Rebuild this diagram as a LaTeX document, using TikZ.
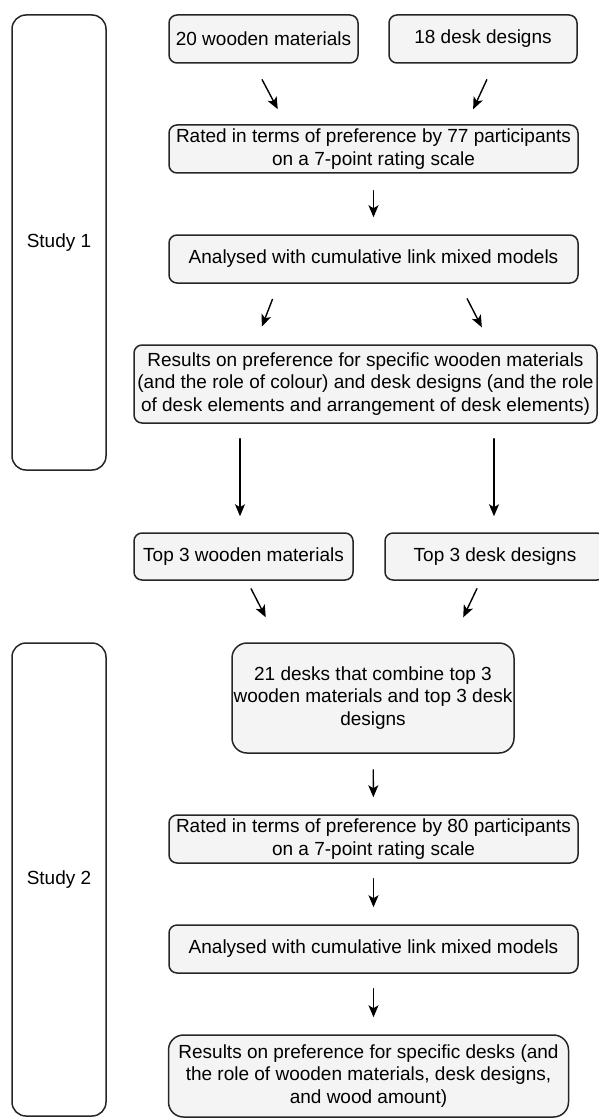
\documentclass[tikz,border=0pt]{standalone}
\usepackage{fontspec}
\setmainfont{Liberation Sans}
\usetikzlibrary{arrows.meta}
\definecolor{boxgray}{HTML}{F4F4F4}
\definecolor{edge}{HTML}{262626}
\begin{document}
\begin{tikzpicture}[x=1pt,y=-1pt, line join=round, line cap=round,
	font=\fontsize{19pt}{22.8pt}\selectfont,
	box/.style={draw=edge, line width=1.5pt, fill=boxgray, rounded corners=8pt, inner sep=0pt, align=center},
	study/.style={draw=edge, line width=1.5pt, rounded corners=14pt, inner sep=0pt, minimum width=94pt},
	arr/.style={-{Stealth[length=12pt,width=10pt,inset=3pt]}, line width=1.4pt}]
	\useasboundingbox (0,0) rectangle (599,1118);
	\node[study, minimum height=455pt] (S1) at (59,242.5) {Study 1};
	\node[study, minimum height=473pt] (S2) at (59,879.5) {Study 2};
	\node[box, minimum width=189pt, minimum height=48pt] (wood) at (263.5,39) {20 wooden materials};
	\node[box, minimum width=188pt, minimum height=48pt] (desk) at (483,39) {18 desk designs};
	\node[box, minimum width=409pt, minimum height=48pt] (rateA) at (373.5,149) {Rated in terms of preference by 77 participants\\on a 7-point rating scale};
	\node[box, minimum width=409pt, minimum height=48pt] (anaA) at (373.5,259) {Analysed with cumulative link mixed models};
	\node[box, minimum width=463pt, minimum height=78pt] (resA) at (365.5,384) {Results on preference for specific wooden materials\\(and the role of colour) and desk designs (and the role\\of desk elements and arrangement of desk elements)};
	\node[box, minimum width=219pt, minimum height=47pt] (topW) at (243.5,556.5) {Top 3 wooden materials};
	\node[box, minimum width=220pt, minimum height=47pt] (topD) at (495,556.5) {Top 3 desk designs};
	\node[box, rounded corners=15pt, minimum width=282pt, minimum height=110pt] (combo) at (373,698) {21 desks that combine top 3\\wooden materials and top 3 desk\\designs};
	\node[box, minimum width=409pt, minimum height=48pt] (rateB) at (373.5,839) {Rated in terms of preference by 80 participants\\on a 7-point rating scale};
	\node[box, minimum width=409pt, minimum height=48pt] (anaB) at (373.5,949) {Analysed with cumulative link mixed models};
	\node[box, rounded corners=15pt, minimum width=400pt, minimum height=82pt] (resB) at (368.5,1076) {Results on preference for specific desks (and\\the role of wooden materials, desk designs,\\and wood amount)};
	\draw[arr, shorten <=18pt, shorten >=17pt] ([xshift=-9.8pt]wood.south) -- ([xshift=-87.8pt]rateA.north);
	\draw[arr, shorten <=17.5pt, shorten >=16.5pt] ([xshift=11.2pt]desk.south) -- ([xshift=92.7pt]rateA.north);
	\draw[arr, shorten <=17pt, shorten >=17pt] (rateA) -- (anaA);
	\draw[arr, shorten <=16.8pt, shorten >=19pt] ([xshift=-95pt]anaA.south) -- ([xshift=-118.5pt]anaA.south |- resA.north);
	\draw[arr, shorten <=16.8pt, shorten >=19pt] ([xshift=86pt]anaA.south) -- ([xshift=117pt]anaA.south |- resA.north);
	\draw[arr, shorten <=15pt, shorten >=16pt] ([xshift=-3.5pt]topW.north |- resA.south) -- ([xshift=-3.5pt]topW.north);
	\draw[arr, shorten <=15pt, shorten >=16pt] ([xshift=-1pt]topD.north |- resA.south) -- ([xshift=-1pt]topD.north);
	\draw[arr, shorten <=9pt, shorten >=28pt] ([xshift=3.5pt]topW.south) -- ([xshift=-94.5pt]combo.north);
	\draw[arr, shorten <=8.8pt, shorten >=27.6pt] ([xshift=-14.3pt]topD.south) -- ([xshift=78.3pt]combo.north);
	\draw[arr, shorten <=16pt, shorten >=17pt] (combo) -- (rateB);
	\draw[arr, shorten <=15pt, shorten >=17pt] (rateB) -- (anaB);
	\draw[arr, shorten <=15pt, shorten >=17pt] (anaB.south) -- (anaB.south |- resB.north);
\end{tikzpicture}
\end{document}
